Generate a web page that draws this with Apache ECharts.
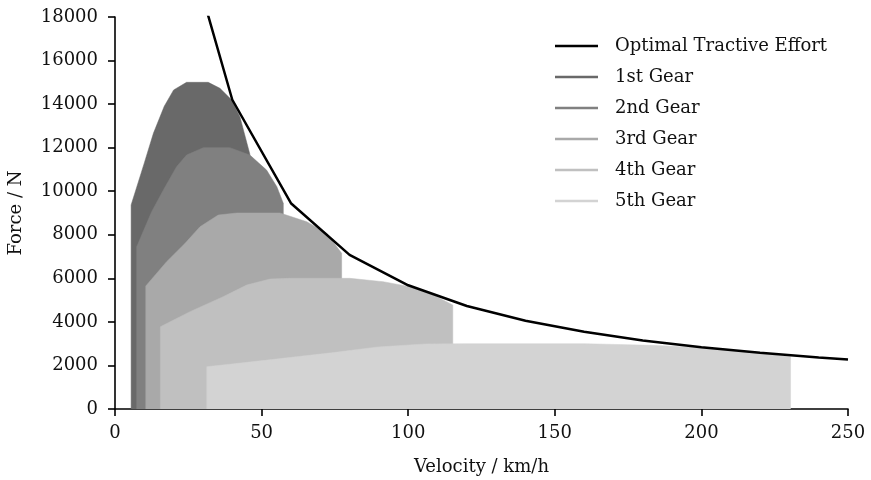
<!DOCTYPE html>
<html>
<head>
<meta charset="utf-8">
<script src="https://cdn.jsdelivr.net/npm/echarts@6/dist/echarts.min.js"></script>
<style>html,body{margin:0;padding:0;background:#fff;}#chart{width:871px;height:480px;}</style>
</head>
<body>
<div id="chart"></div>
<script>
// Optimal tractive effort curve
const optimalV = [30, 40, 60, 80, 100, 120, 140, 160, 180, 200, 220, 240, 250];
const optimalF = [18900, 14200, 9450, 7080, 5680, 4730, 4050, 3550, 3150, 2840, 2580, 2360, 2270];

// Gear envelopes (velocity km/h, force N)
const gear1V = [5.5, 10, 13.1, 16.8, 20, 24.4, 31.8, 35.8, 39.8, 42.6, 46.0];
const gear1F = [9370, 11300, 12660, 13900, 14650, 15000, 15000, 14725, 14190, 13420, 11700];
const gear2V = [7.4, 12.5, 16.5, 21, 24.4, 30.1, 39.2, 46, 51.7, 55.2, 57.4];
const gear2F = [7450, 9060, 10055, 11125, 11660, 12000, 12000, 11660, 10970, 10206, 9444];
const gear3V = [10.5, 17.6, 23.9, 29, 35.2, 41.5, 56.3, 65.4, 72.2, 77.3];
const gear3F = [5650, 6763, 7608, 8370, 8907, 9000, 9000, 8600, 8067, 7150];
const gear4V = [15.5, 25.6, 36.9, 44.9, 52.9, 59.7, 80.1, 91.5, 100.6, 108.6, 115.2];
const gear4F = [3780, 4470, 5160, 5693, 5969, 6000, 6000, 5845, 5616, 5234, 4775];
const gear5V = [31.3, 51.2, 73.8, 89.8, 105.8, 119.4, 160.2, 183, 201.2, 217.2, 230.4];
const gear5F = [1940, 2235, 2580, 2850, 2985, 3000, 3000, 2922, 2808, 2617, 2400];

const gearNames = ['1st Gear', '2nd Gear', '3rd Gear', '4th Gear', '5th Gear'];
const gearColors = ['#696969', '#808080', '#a9a9a9', '#c0c0c0', '#d3d3d3'];
const gears = [[gear1V, gear1F], [gear2V, gear2F], [gear3V, gear3F], [gear4V, gear4F], [gear5V, gear5F]];

const FONT = 'DejaVu Serif';
const TXT = '#111';

function envelope(v, f) {
  const pts = [[v[0], 0]];
  for (let i = 0; i < v.length; i++) pts.push([v[i], f[i]]);
  pts.push([v[v.length - 1], 0]);
  return pts;
}

const series = [{
  name: 'Optimal Tractive Effort',
  type: 'line',
  data: optimalV.map((v, i) => [v, optimalF[i]]),
  symbol: 'none',
  color: '#000',
  lineStyle: { color: '#000', width: 2.5 },
  z: 10,
  clip: true
}];
gears.forEach((g, i) => {
  series.push({
    name: gearNames[i],
    type: 'line',
    data: envelope(g[0], g[1]),
    symbol: 'none',
    color: gearColors[i],
    lineStyle: { color: gearColors[i], width: 0.5 },
    areaStyle: { color: gearColors[i], opacity: 1 },
    z: 2 + i * 0.1
  });
});

const chart = echarts.init(document.getElementById('chart'), null, { renderer: 'canvas' });
chart.setOption({
  animation: false,
  backgroundColor: '#fff',
  textStyle: { fontFamily: FONT },
  grid: { left: 115, right: 23, top: 17, bottom: 71, containLabel: false, outerBoundsMode: 'none' },
  legend: {
    show: true,
    orient: 'vertical',
    left: 550,
    top: 32,
    icon: 'rect',
    itemWidth: 43,
    itemHeight: 2.5,
    itemGap: 13,
    textStyle: { fontFamily: FONT, fontSize: 18, color: TXT, padding: [0, 0, 0, 12] },
    data: ['Optimal Tractive Effort'].concat(gearNames)
  },
  xAxis: {
    type: 'value',
    min: 0, max: 250, interval: 50,
    name: 'Velocity / km/h',
    nameLocation: 'middle',
    nameGap: 49,
    nameTextStyle: { fontFamily: FONT, fontSize: 18, color: TXT },
    axisLine: { lineStyle: { color: '#000', width: 1.6 } },
    axisTick: { show: true, length: 7, lineStyle: { color: '#000', width: 1.6 } },
    axisLabel: { fontFamily: FONT, fontSize: 18, color: TXT, margin: 15 },
    splitLine: { show: false }
  },
  yAxis: {
    type: 'value',
    min: 0, max: 18000, interval: 2000,
    name: 'Force / N',
    nameLocation: 'middle',
    nameGap: 90,
    nameRotate: 90,
    nameTextStyle: { fontFamily: FONT, fontSize: 18, color: TXT },
    axisLine: { show: true, lineStyle: { color: '#000', width: 1.6 } },
    axisTick: { show: true, length: 7, lineStyle: { color: '#000', width: 1.6 } },
    axisLabel: { fontFamily: FONT, fontSize: 18, color: TXT, margin: 17, formatter: v => String(v) },
    splitLine: { show: false }
  },
  series: series
});
</script>
</body>
</html>
